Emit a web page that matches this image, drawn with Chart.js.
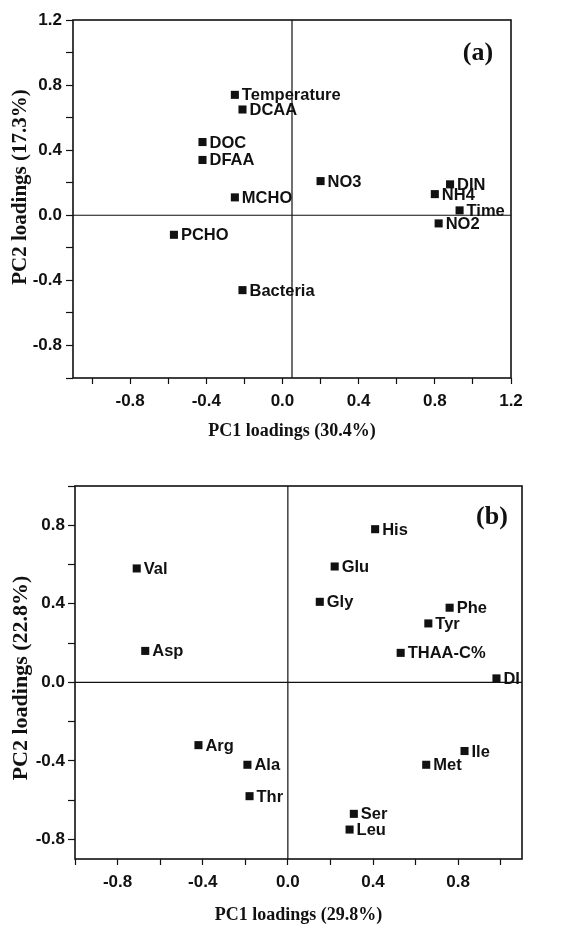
<!DOCTYPE html>
<html>
<head>
<meta charset="utf-8">
<script src="https://cdn.jsdelivr.net/npm/chart.js@4.4.1/dist/chart.umd.min.js"></script>
<style>
  body { margin: 0; background: #fff; }
  .panel { position: absolute; left: 0; }
</style>
</head>
<body>
<canvas id="chartA" class="panel" style="top:0" width="569" height="445"></canvas>
<canvas id="chartB" class="panel" style="top:445px" width="569" height="481"></canvas>
<script>
// panel (a)
const varsA = ['Temperature', 'DCAA', 'DOC', 'DFAA', 'MCHO', 'NO3', 'DIN', 'NH4', 'Time', 'NO2', 'PCHO', 'Bacteria']
const pc1A = [-0.25, -0.21, -0.42, -0.42, -0.25, 0.20, 0.88, 0.80, 0.93, 0.82, -0.57, -0.21]
const pc2A = [0.74, 0.65, 0.45, 0.34, 0.11, 0.21, 0.19, 0.13, 0.03, -0.05, -0.12, -0.46]
const xTicksA = [-1.0, -0.8, -0.6, -0.4, -0.2, 0.0, 0.2, 0.4, 0.6, 0.8, 1.0, 1.2]
const yTicksA = [-1.0, -0.8, -0.6, -0.4, -0.2, 0.0, 0.2, 0.4, 0.6, 0.8, 1.0, 1.2]

// panel (b)
const aminoB = ['His', 'Val', 'Glu', 'Gly', 'Phe', 'Tyr', 'Asp', 'THAA-C%', 'DI', 'Arg', 'Ala', 'Thr', 'Ser', 'Leu', 'Ile', 'Met']
const pc1B = [0.41, -0.71, 0.22, 0.15, 0.76, 0.66, -0.67, 0.53, 0.98, -0.42, -0.19, -0.18, 0.31, 0.29, 0.83, 0.65]
const pc2B = [0.78, 0.58, 0.59, 0.41, 0.38, 0.30, 0.16, 0.15, 0.02, -0.32, -0.42, -0.58, -0.67, -0.75, -0.35, -0.42]
const xTicksB = [-1.0, -0.8, -0.6, -0.4, -0.2, 0.0, 0.2, 0.4, 0.6, 0.8, 1.0]
const yTicksB = [-0.8, -0.6, -0.4, -0.2, 0.0, 0.2, 0.4, 0.6, 0.8, 1.0]

const SANS = "'Liberation Sans', Arial, sans-serif"
const SERIF = "'Liberation Serif', 'Times New Roman', serif"

// only every 0.4 gets a number, the rest are minor ticks
const tickLabel = v => {
    const k = Math.round(v / 0.4)
    if (Math.abs(k * 0.4 - v) > 1e-6) return ''
    const r = Math.round(v * 10) / 10
    return (r === 0 ? 0 : r).toFixed(1)
}

// frame, zero lines, point names, panel letter and the y title
const loadingsPlugin = {
    id: 'loadings',
    beforeDatasetsDraw(chart, args, opts) {
        const { ctx, chartArea: a, scales } = chart
        ctx.save()
        ctx.strokeStyle = '#111'
        ctx.lineWidth = 1.2
        const zx = scales.x.getPixelForValue(opts.zeroX)
        const zy = scales.y.getPixelForValue(opts.zeroY)
        ctx.beginPath()
        ctx.moveTo(zx, a.top)
        ctx.lineTo(zx, a.bottom)
        ctx.moveTo(a.left, zy)
        ctx.lineTo(a.right, zy)
        ctx.stroke()
        ctx.lineWidth = 1.6
        ctx.strokeRect(a.left, a.top, a.right - a.left, a.bottom - a.top)
        ctx.restore()
    },
    afterDatasetsDraw(chart, args, opts) {
        const { ctx, chartArea: a } = chart
        const meta = chart.getDatasetMeta(0)
        ctx.save()
        ctx.fillStyle = '#111'
        ctx.textBaseline = 'middle'
        ctx.textAlign = 'center'
        ctx.save()
        ctx.translate(opts.yTitleX, opts.yTitleY)
        ctx.rotate(-Math.PI / 2)
        ctx.font = 'bold ' + opts.yTitleSize + 'px ' + SERIF
        ctx.fillText(opts.yTitle, 0, 0)
        ctx.restore()
        ctx.beginPath()
        ctx.rect(a.left, a.top, a.right - a.left, a.bottom - a.top)
        ctx.clip()
        ctx.font = 'bold 16.5px ' + SANS
        ctx.textAlign = 'left'
        meta.data.forEach((pt, i) => {
            ctx.fillText(opts.names[i], pt.x + 7, pt.y + 1)
        })
        ctx.font = 'bold 26px ' + SERIF
        ctx.textAlign = 'center'
        ctx.fillText(opts.tag, a.right - opts.tagDx, a.top + opts.tagDy)
        ctx.restore()
    }
}

function makeChart(id, names, xs, ys, cfg) {
    const points = xs.map((x, i) => ({ x: x, y: ys[i] }))
    return new Chart(document.getElementById(id), {
        type: 'scatter',
        data: {
            datasets: [{
                data: points,
                pointStyle: 'rect',
                pointRadius: 5.7,
                pointHoverRadius: 5.7,
                backgroundColor: '#111',
                borderWidth: 0
            }]
        },
        options: {
            responsive: false,
            animation: false,
            layout: { padding: cfg.padding },
            plugins: {
                legend: { display: false },
                tooltip: { enabled: false },
                loadings: {
                    names: names, zeroX: cfg.zeroX, zeroY: 0,
                    tag: cfg.tag, tagDx: cfg.tagDx, tagDy: cfg.tagDy,
                    yTitle: cfg.yTitle, yTitleSize: cfg.yTitleSize, yTitleX: 21, yTitleY: cfg.yTitleY
                }
            },
            scales: {
                x: {
                    type: 'linear',
                    min: cfg.xMin,
                    max: cfg.xMax,
                    afterBuildTicks: s => { s.ticks = cfg.xTicks.map(v => ({ value: v })) },
                    afterFit: s => { s.height = 67 },
                    grid: { drawOnChartArea: false, tickLength: 6, color: '#111', tickWidth: 1.2 },
                    border: { display: false },
                    ticks: {
                        callback: tickLabel,
                        autoSkip: false,
                        maxRotation: 0,
                        padding: 7,
                        color: '#111',
                        font: { family: SANS, size: 17, weight: 'bold' }
                    },
                    title: {
                        display: true,
                        text: cfg.xTitle,
                        color: '#111',
                        padding: { top: 0, bottom: cfg.xTitlePad },
                        font: { family: SERIF, size: 18, weight: 'bold' }
                    }
                },
                y: {
                    type: 'linear',
                    min: cfg.yMin,
                    max: cfg.yMax,
                    afterBuildTicks: s => { s.ticks = cfg.yTicks.map(v => ({ value: v })) },
                    afterFit: s => { s.width = cfg.yWidth },
                    grid: { drawOnChartArea: false, tickLength: 7, color: '#111', tickWidth: 1.2 },
                    border: { display: false },
                    ticks: {
                        callback: tickLabel,
                        autoSkip: false,
                        padding: cfg.yTickPad,
                        color: '#111',
                        font: { family: SANS, size: 17, weight: 'bold' }
                    }
                }
            }
        },
        plugins: [loadingsPlugin]
    })
}

makeChart('chartA', varsA, pc1A, pc2A, {
    xMin: -1.1, xMax: 1.2, yMin: -1.0, yMax: 1.2,
    xTicks: xTicksA, yTicks: yTicksA,
    zeroX: 0.05,
    padding: { top: 20, right: 58, bottom: 0, left: 0 },
    yWidth: 73, yTickPad: 4,
    xTitle: 'PC1 loadings (30.4%)', yTitle: 'PC2 loadings (17.3%)',
    yTitleSize: 21, yTitleY: 187, xTitlePad: 3,
    tag: '(a)', tagDx: 33, tagDy: 33
})

makeChart('chartB', aminoB, pc1B, pc2B, {
    xMin: -1.0, xMax: 1.1, yMin: -0.9, yMax: 1.0,
    xTicks: xTicksB, yTicks: yTicksB,
    zeroX: 0,
    padding: { top: 41, right: 47, bottom: 0, left: 0 },
    yWidth: 75, yTickPad: 3,
    xTitle: 'PC1 loadings (29.8%)', yTitle: 'PC2 loadings (22.8%)',
    yTitleSize: 22, yTitleY: 233, xTitlePad: 0,
    tag: '(b)', tagDx: 30, tagDy: 31
})
</script>
</body>
</html>
